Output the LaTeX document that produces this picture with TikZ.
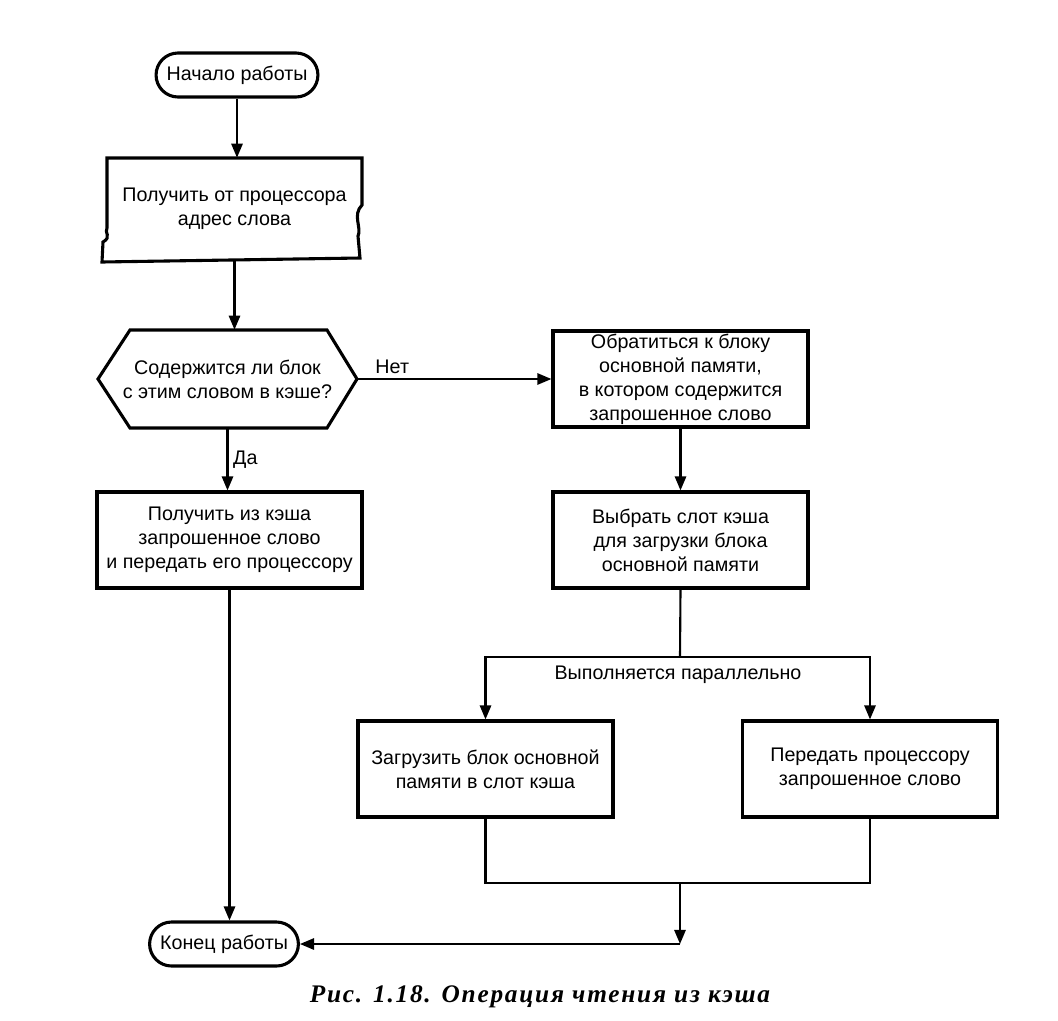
\documentclass[tikz,border=0pt]{standalone}
\usepackage{fontspec}
\setmainfont{Liberation Sans}
\newfontfamily\capfont[LetterSpace=7]{Liberation Serif}
\usetikzlibrary{arrows.meta,shapes.misc}

\begin{document}
\begin{tikzpicture}[x=0.025cm,y=-0.025cm,
	every node/.style={font=\fontsize{14}{17}\selectfont,align=center},
	box/.style={draw,line width=2.2pt,minimum width=6.375cm,minimum height=2.4cm,inner sep=2pt},
	term/.style={draw,line width=2.2pt,rounded rectangle,minimum height=1.1cm,inner xsep=6pt},
	flow/.style={line width=1.5pt,-{Triangle[length=10pt,width=8pt]}},
	wire/.style={line width=1.5pt}]
		\useasboundingbox (0,0) rectangle (1058,1020);
		
		\node[term,minimum width=4cm] (start) at (237,75) {Начало работы};
		\node[minimum width=6.375cm,minimum height=2.55cm] (in) at (234.5,209) {Получить от процессора\\адрес слова};
		\draw[line width=2.2pt] (107,158) -- (362,158) -- (362,205)
			.. controls (352,215) and (362,228) .. (358,236) -- (360,258) -- (102,262) -- (103,242)
			.. controls (112,237) and (104,232) .. (107,228) -- cycle;
		\node[minimum width=6.475cm,minimum height=2.45cm] (dec) at (227.5,379) {Содержится ли блок\\с этим словом в кэше?};
		\draw[line width=2.2pt] (98,379) -- (130,330) -- (327,330) -- (357,379) -- (327,428) -- (130,428) -- cycle;
		\node[box] (fetch) at (680.5,379) {Обратиться к блоку\\основной памяти,\\в котором содержится\\запрошенное слово};
		\node[box,minimum width=6.625cm] (hit) at (229.5,540) {Получить из кэша\\запрошенное слово\\и передать его процессору};
		\node[box] (slot) at (680.5,540) {Выбрать слот кэша\\для загрузки блока\\основной памяти};
		\node[box] (load) at (485.5,769) {Загрузить блок основной\\памяти в слот кэша};
		\node[box] (send) at (870,769) {Передать процессору\\запрошенное слово};
		\node[term,minimum width=3.7cm] (end) at (224,944) {Конец работы};
		\node (par) at (678,675) {Выполняется параллельно};
		\node[font=\capfont\bfseries\itshape\fontsize{18}{21}\selectfont] (cap) at (540,997) {Рис. 1.18. Операция чтения из кэша};
		
		\coordinate (split) at (680,657);
		\coordinate (join) at (680,883);
		\coordinate (merge) at (680,944);
		
		\draw[flow] (start.south) -- (start.south |- in.north);
		\draw[flow] (in.south) -- (in.south |- dec.north);
		\draw[flow] (dec.east) -- node[above,pos=0.18] {Нет} (fetch.west);
		\draw[flow] (dec.south) -- node[right] {Да} (dec.south |- hit.north);
		\draw[flow] (fetch) -- (slot);
		\draw[flow] (hit.south) -- (hit.south |- end.north);
		\draw[wire] (slot.south) -- (split);
		\draw[flow] (split) -| (load.north);
		\draw[flow] (split) -| (send.north);
		\draw[wire] (load.south) -- (load.south |- join) -- (send.south |- join) -- (send.south);
		\draw[flow] (join) -- (merge);
		\draw[flow] (merge) -- (end.east);
\end{tikzpicture}
\end{document}
